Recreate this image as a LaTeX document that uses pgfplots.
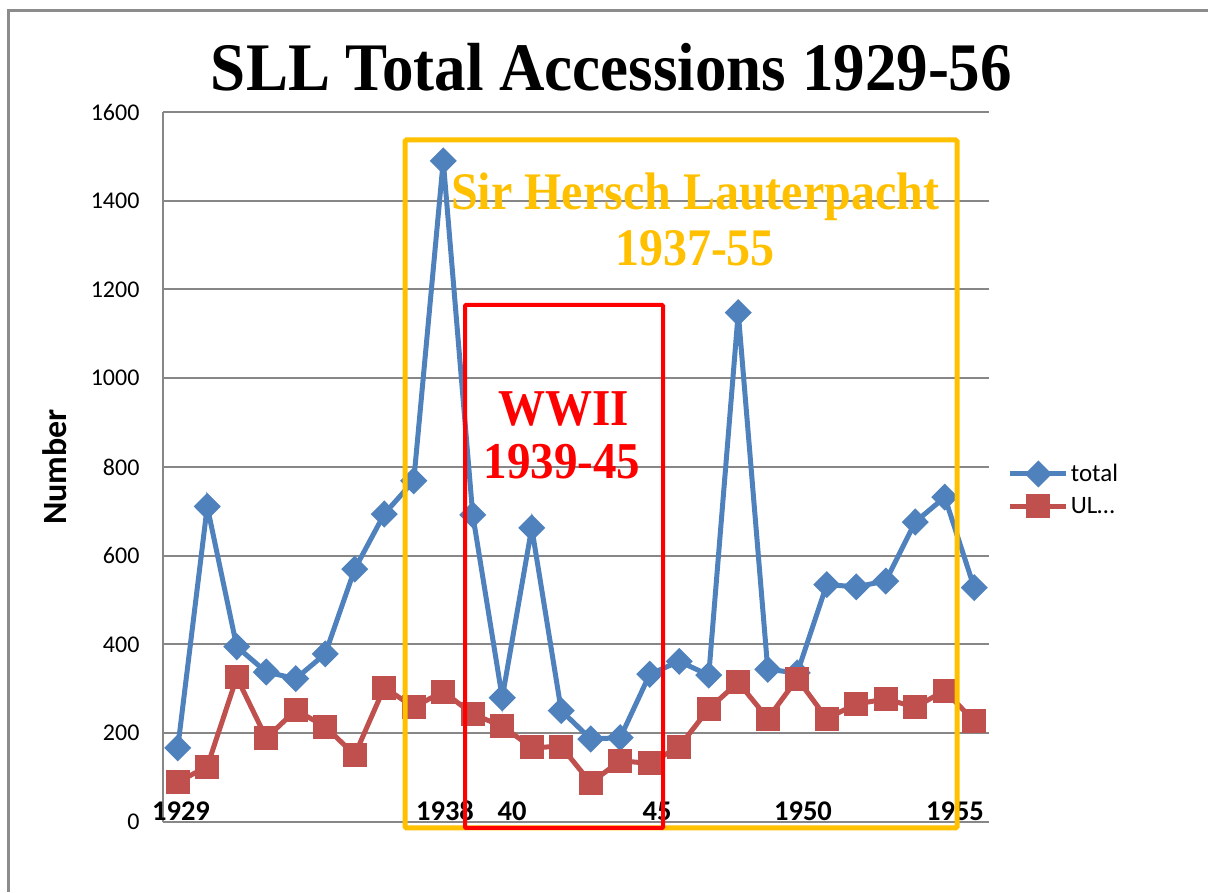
\documentclass[border=0pt]{standalone}
\usepackage{fontspec}
\setmainfont{Liberation Serif}
\newfontfamily\calib{Carlito}
\usepackage{graphicx}
\usepackage{pgfplots}
\usepackage{pgfplotstable}
\pgfplotsset{compat=1.18}
\definecolor{xblue}{HTML}{4F81BD}
\definecolor{xred}{HTML}{C0504D}
\definecolor{xgold}{HTML}{FFC000}
\definecolor{xgrid}{HTML}{878787}
\definecolor{xframe}{HTML}{8C8C8C}
\pgfplotstableread{
year total ul
1929 167 90
1930 711 125
1931 395 326
1932 338 189
1933 323 252
1934 379 215
1935 570 151
1936 694 303
1937 769 259
1938 1490 294
1939 692 243
1940 280 216
1941 663 168
1942 251 170
1943 187 88
1944 190 138
1945 333 132
1946 362 170
1947 331 255
1948 1148 315
1949 344 233
1950 336 323
1951 535 233
1952 530 266
1953 543 277
1954 676 259
1955 732 296
1956 528 227
}\datatable
\begin{document}
\begin{tikzpicture}[x=1pt,y=1pt]
\useasboundingbox (0,0) rectangle (1208,892);
\draw[xframe, line width=3pt] (8.5,0) -- (8.5,881.5) -- (1208,881.5);
\begin{axis}[
 at={(163pt,70pt)}, anchor=south west,
 width=826pt, height=710pt, scale only axis,
 xmin=1928.5, xmax=1956.5, ymin=0, ymax=1600,
 ytick={0,200,...,1600}, xtick=\empty,
 ymajorgrids, grid style={xgrid, line width=2pt},
 axis line style={xgrid, line width=2pt},
 axis x line*=bottom, axis y line*=left,
 major tick length=0pt,
 /pgf/number format/1000 sep={},
 /pgf/number format/assume math mode=true,
 yticklabel style={font=\calib\fontsize{24}{28}\selectfont, anchor=east, xshift=-20pt},
 clip=false,
 legend style={at={(1.019,0.468)}, anchor=west, draw=none, fill=none,
   font=\calib\fontsize{25}{29}\selectfont, row sep=10pt},
 legend cell align=left,
 legend image code/.code={\draw[mark repeat=2,mark phase=2,#1] plot coordinates {(0pt,0pt) (28pt,0pt) (56pt,0pt)};},
]
\addplot[xblue, line width=5pt, mark=diamond*, mark size=10pt, mark options={xscale=1.33, solid}] table[x=year, y=total] {\datatable};
\addlegendentry{total}
\addplot[xred, line width=5pt, mark=square*, mark size=9.5pt, mark options={solid}] table[x=year, y=ul] {\datatable};
\addlegendentry{UL…}
\end{axis}
\node[font=\bfseries\fontsize{63}{70}\selectfont, anchor=base, inner sep=0pt] at (611.5,801) {\scalebox{1}[1.08]{SLL Total Accessions 1929-56}};
\node[rotate=90, font=\calib\bfseries\fontsize{34}{38}\selectfont] at (55,425) {Number};
\begin{scope}[font=\calib\bfseries\fontsize{28.5}{32}\selectfont]
\node[anchor=base] at (181,71) {1929};
\node[anchor=base] at (445,71) {1938};
\node[anchor=base] at (512,71) {40};
\node[anchor=base] at (657,71) {45};
\node[anchor=base] at (803,71) {1950};
\node[anchor=base] at (955,71) {1955};
\end{scope}
\draw[xgold, line width=5pt, rounded corners=1.5pt] (405,64) rectangle (957,752);
\node[text=xgold, font=\bfseries\fontsize{48}{55}\selectfont, anchor=base, inner sep=0pt] at (695,682) {\scalebox{1}[1.1]{Sir Hersch Lauterpacht}};
\node[text=xgold, font=\bfseries\fontsize{48}{55}\selectfont, anchor=base, inner sep=0pt] at (695,626) {\scalebox{1}[1.1]{1937-55}};
\draw[red, line width=4pt, rounded corners=1pt] (465,64) rectangle (663,587);
\node[text=red, font=\bfseries\fontsize{47}{55}\selectfont, anchor=base, inner sep=0pt] at (564,466) {\scalebox{1}[1.1]{WWII}};
\node[text=red, font=\bfseries\fontsize{47}{55}\selectfont, anchor=base, inner sep=0pt] at (562,413) {\scalebox{1}[1.1]{1939-45}};
\end{tikzpicture}
\end{document}
